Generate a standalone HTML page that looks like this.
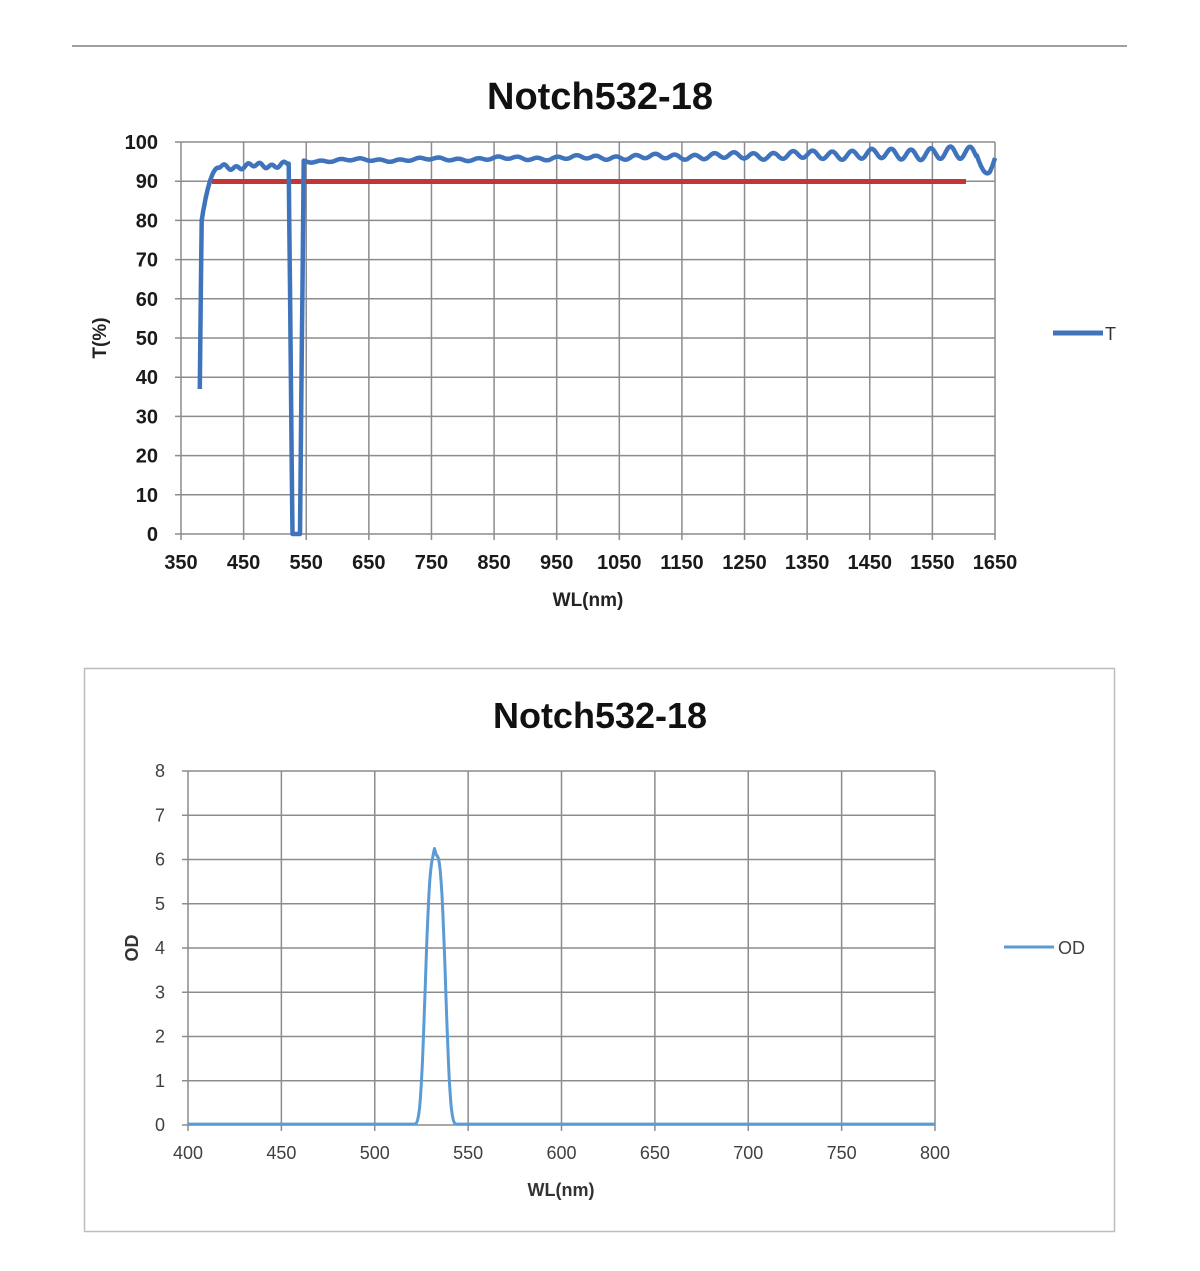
<!DOCTYPE html>
<html><head><meta charset="utf-8"><style>
html,body{margin:0;padding:0;background:#fff;}
svg{display:block;font-family:"Liberation Sans",sans-serif;}
</style></head><body>
<svg id="s" width="1200" height="1271" viewBox="0 0 1200 1271" xmlns="http://www.w3.org/2000/svg">
<line x1="72" y1="46" x2="1127" y2="46" stroke="#a0a0a0" stroke-width="2"/>
<text x="600" y="109" text-anchor="middle" font-size="38" font-weight="bold" fill="#111">Notch532-18</text>
<g id="g1" stroke="#8c8c8c" stroke-width="1.5"></g>
<g id="l1" font-size="20" font-weight="bold" fill="#1a1a1a"></g>
<text x="588" y="606" text-anchor="middle" font-size="19" font-weight="bold" fill="#222">WL(nm)</text>
<text transform="translate(106,338) rotate(-90)" text-anchor="middle" font-size="19" font-weight="bold" fill="#222">T(%)</text>
<line x1="212" y1="181.5" x2="966" y2="181.5" stroke="#c0373a" stroke-width="5"/>
<path id="p1" fill="none" stroke="#3f74bd" stroke-width="4.5" stroke-linejoin="round"/>
<line x1="1053" y1="333" x2="1103" y2="333" stroke="#3f74bd" stroke-width="5"/>
<text x="1105" y="340" font-size="18" fill="#333">T</text>

<rect x="84.5" y="668.5" width="1030" height="563" fill="none" stroke="#bdbdbd" stroke-width="1.5"/>
<text x="600" y="728" text-anchor="middle" font-size="36" font-weight="bold" fill="#111">Notch532-18</text>
<g id="g2" stroke="#8c8c8c" stroke-width="1.5"></g>
<g id="l2" font-size="18" fill="#404040"></g>
<text x="561" y="1196" text-anchor="middle" font-size="18" font-weight="bold" fill="#333">WL(nm)</text>
<text transform="translate(138,948) rotate(-90)" text-anchor="middle" font-size="18" font-weight="bold" fill="#333">OD</text>
<path id="p2" fill="none" stroke="#5b9bd5" stroke-width="3" stroke-linejoin="round"/>
<line x1="1004" y1="947" x2="1054" y2="947" stroke="#5b9bd5" stroke-width="3"/>
<text x="1058" y="954" font-size="18" fill="#404040">OD</text>
</svg>
<script>
var NS="http://www.w3.org/2000/svg";
function el(p,t,a,txt){var e=document.createElementNS(NS,t);for(var k in a)e.setAttribute(k,a[k]);if(txt!==undefined)e.textContent=txt;p.appendChild(e);return e;}
var X0=181,X1=995,Y0=534,Y1=142;
function xs(w){return X0+(w-350)/1300*(X1-X0);}
function ys(t){return Y0-t/100*(Y0-Y1);}
var g1=document.getElementById('g1'),l1=document.getElementById('l1');
for(var t=0;t<=100;t+=10){var y=ys(t);el(g1,'line',{x1:X0-6,y1:y,x2:X1,y2:y});el(l1,'text',{x:158,y:y+7,'text-anchor':'end'},t);}
for(var w=350;w<=1650;w+=100){var x=xs(w);el(g1,'line',{x1:x,y1:Y1,x2:x,y2:Y0+6});el(l1,'text',{x:x,y:569,'text-anchor':'middle'},w);}
function T(w){
 if(w<383)return 37+(w-380)/3*43;
 if(w<410){var f=(w-383)/27;return 80+13.5*(1-Math.pow(1-f,2));}
 if(w<522)return 93.5+0.5*Math.sin(w/3)+0.4*Math.sin(w/9)+(w-410)/112*0.8;
 if(w<528)return 94.5*(1-(w-522)/6);
 if(w<540)return 0;
 if(w<546)return 95*(w-540)/6;
 var r=(w-546)/1100;
 var base=95.2+r*2, amp=0.25+Math.pow(r,2.5)*1.5;
 var v=base+amp*Math.sin(w/5)+0.25*Math.sin(w/19);
 if(w>1620){var u=(w-1620)/30;v=97-5*Math.sin(Math.min(u,1)*Math.PI*0.85)*1+ (u>0.7?(u-0.7)*4:0);}
 return v;}
var d='';for(var w=380;w<=1650;w+=1){d+=(w==380?'M':'L')+xs(w).toFixed(1)+' '+ys(Math.min(T(w),99)).toFixed(1);}
document.getElementById('p1').setAttribute('d',d);
var A0=188,A1=935,B0=1125,B1=771;
function xs2(w){return A0+(w-400)/400*(A1-A0);}
function ys2(o){return B0-o/8*(B0-B1);}
var g2=document.getElementById('g2'),l2=document.getElementById('l2');
for(var o=0;o<=8;o++){var y=ys2(o);el(g2,'line',{x1:A0-6,y1:y,x2:A1,y2:y});el(l2,'text',{x:165,y:y+6,'text-anchor':'end'},o);}
for(var w=400;w<=800;w+=50){var x=xs2(w);el(g2,'line',{x1:x,y1:B1,x2:x,y2:B0+6});el(l2,'text',{x:x,y:1159,'text-anchor':'middle'},w);}
function OD(w){var z=(w-532.5)/6.2;var v=6.1*Math.exp(-Math.pow(Math.abs(z),3.2));if(Math.abs(w-532)<1)v+=0.15*(1-Math.abs(w-532));return v<0.02?0.02:v;}
var d2='';for(var w=400;w<=800;w+=0.5){d2+=(w==400?'M':'L')+xs2(w).toFixed(1)+' '+ys2(OD(w)).toFixed(1);}
document.getElementById('p2').setAttribute('d',d2);
</script>
</body></html>
